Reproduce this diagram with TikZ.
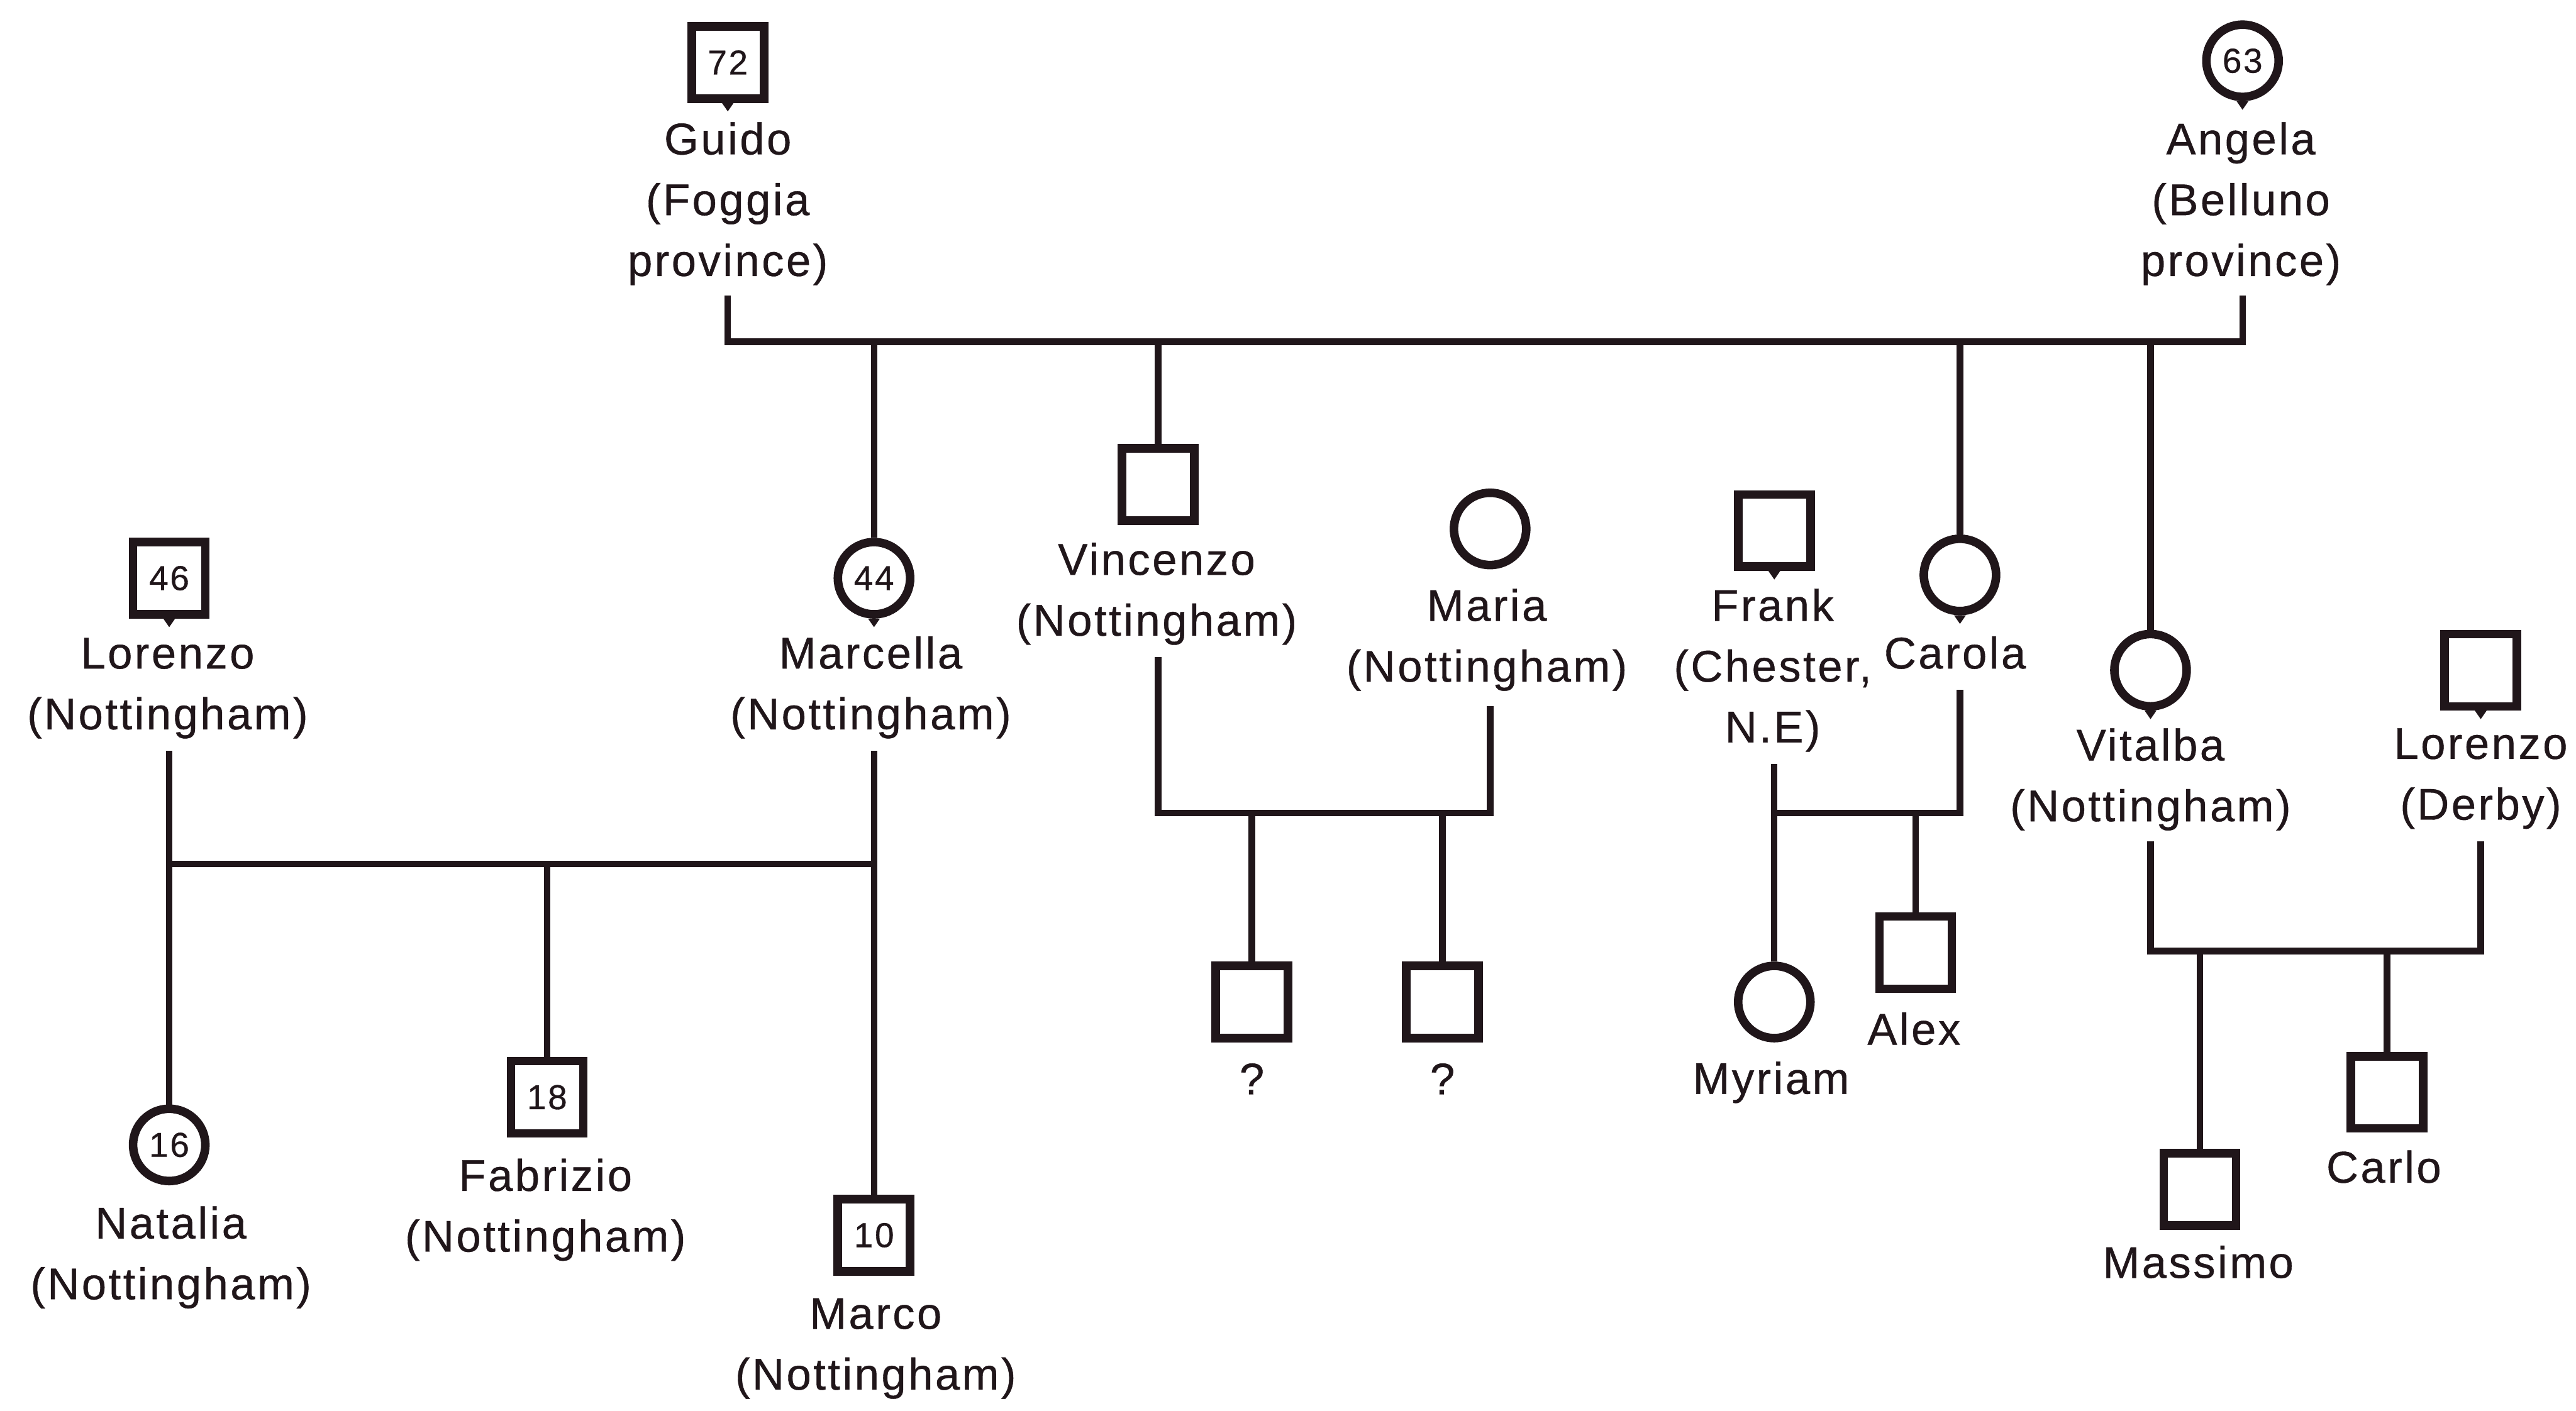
\documentclass[tikz,border=0pt]{standalone}
\usepackage{fontspec}
\setmainfont{Liberation Sans}[LetterSpace=5,FakeBold=0.6]
\usetikzlibrary{calc}
\definecolor{ink}{RGB}{32,22,26}
\begin{document}
\begin{tikzpicture}[x=0.5pt,y=-0.5pt,
  male/.style={rectangle,draw=ink,line width=2.6pt,minimum size=22pt,inner sep=0pt,
    fill=white,text=ink,font=\fontsize{10.5}{11}\selectfont},
  female/.style={circle,draw=ink,line width=2.6pt,minimum size=22pt,inner sep=0pt,
    fill=white,text=ink,font=\fontsize{10.5}{11}\selectfont},
  persontag/.style={anchor=north,align=center,inner sep=0pt,text=ink,
    font=\fontsize{13.5}{18.5}\selectfont},
  link/.style={draw=ink,line width=2pt},
  nubmark/.style={fill=ink}]
\useasboundingbox[fill=white] (0,0) rectangle (1568,859);

% ---------- people ----------
\node[male]   (guido)    at (443,38)   {72};
\node[female] (angela)   at (1365,37)  {63};
\node[male]   (lorenzoN) at (103,352)  {46};
\node[female] (marcella) at (532,352)  {44};
\node[male]   (vincenzo) at (705,295)  {};
\node[female] (maria)    at (907,322)  {};
\node[male]   (frank)    at (1080,323) {};
\node[female] (carola)   at (1193,350) {};
\node[female] (vitalba)  at (1309,408) {};
\node[male]   (lorenzoD) at (1510,408) {};
\node[female] (natalia)  at (103,697)  {16};
\node[male]   (fabrizio) at (333,668)  {18};
\node[male]   (marco)    at (532,752)  {10};
\node[male]   (qa)       at (762,610)  {};
\node[male]   (qb)       at (878,610)  {};
\node[female] (myriam)   at (1080,610) {};
\node[male]   (alex)     at (1166,580) {};
\node[male]   (massimo)  at (1339,724) {};
\node[male]   (carlo)    at (1453,665) {};

% small marks under the symbols that carry a name
\foreach \p in {guido,angela,lorenzoN,marcella,frank,carola,vitalba,lorenzoD}
  \fill[nubmark] ([xshift=-1.8pt]\p.south) -- ([yshift=-2.6pt]\p.south) -- ([xshift=1.8pt]\p.south) -- cycle;

% ---------- names ----------
\node[persontag] (guidoL)    at (443,74)   {Guido\\(Foggia\\province)};
\node[persontag] (angelaL)   at (1364,74)  {Angela\\(Belluno\\province)};
\node[persontag] (lorenzoNL) at (102,388)  {Lorenzo\\(Nottingham)};
\node[persontag] (marcellaL) at (530,387)  {Marcella\\(Nottingham)};
\node[persontag] (vincenzoL) at (704,330)  {Vincenzo\\(Nottingham)};
\node[persontag] (mariaL)    at (905,358)  {Maria\\(Nottingham)};
\node[persontag] (frankL)    at (1079,358) {Frank\\(Chester,\\N.E)};
\node[persontag] (carolaL)   at (1190,387) {Carola};
\node[persontag] (vitalbaL)  at (1309,443) {Vitalba\\(Nottingham)};
\node[persontag] (lorenzoDL) at (1510,443) {Lorenzo\\(Derby)};
\node[persontag] (nataliaL)  at (104,734)  {Natalia\\(Nottingham)};
\node[persontag] (fabrizioL) at (332,705)  {Fabrizio\\(Nottingham)};
\node[persontag] (marcoL)    at (533,790)  {Marco\\(Nottingham)};
\node[persontag] (qaL)       at (762,647)  {?};
\node[persontag] (qbL)       at (878,647)  {?};
\node[persontag] (myriamL)   at (1078,646) {Myriam};
\node[persontag] (alexL)     at (1165,616) {Alex};
\node[persontag] (massimoL)  at (1338,758) {Massimo};
\node[persontag] (carloL)    at (1451,700) {Carlo};

% ---------- Guido + Angela ----------
\draw[link] (guido |- 0,180) |- (angela |- 0,208) -- (angela |- 0,180);
\draw[link] (marcella |- 0,208) -- (marcella.north);
\draw[link] (vincenzo |- 0,208) -- (vincenzo.north);
\draw[link] (carola |- 0,208) -- (carola.north);
\draw[link] (vitalba |- 0,208) -- (vitalba.north);

% ---------- Lorenzo + Marcella ----------
\draw[link] (lorenzoN |- 0,457) -- (natalia.north);
\draw[link] (marcella |- 0,457) -- (marco.north);
\draw[link] (lorenzoN |- 0,526) -- (marcella |- 0,526);
\draw[link] (fabrizio |- 0,526) -- (fabrizio.north);

% ---------- Vincenzo + Maria ----------
\draw[link] (vincenzo |- 0,400) |- (maria |- 0,495) -- (maria |- 0,430);
\draw[link] (qa |- 0,495) -- (qa.north);
\draw[link] (qb |- 0,495) -- (qb.north);

% ---------- Frank + Carola ----------
\draw[link] (frank |- 0,465) -- (myriam.north);
\draw[link] (frank |- 0,495) -| (carola |- 0,420);
\draw[link] (alex |- 0,495) -- (alex.north);

% ---------- Vitalba + Lorenzo ----------
\draw[link] (vitalba |- 0,512) |- (lorenzoD |- 0,579) -- (lorenzoD |- 0,512);
\draw[link] (massimo |- 0,579) -- (massimo.north);
\draw[link] (carlo |- 0,579) -- (carlo.north);
\end{tikzpicture}
\end{document}
